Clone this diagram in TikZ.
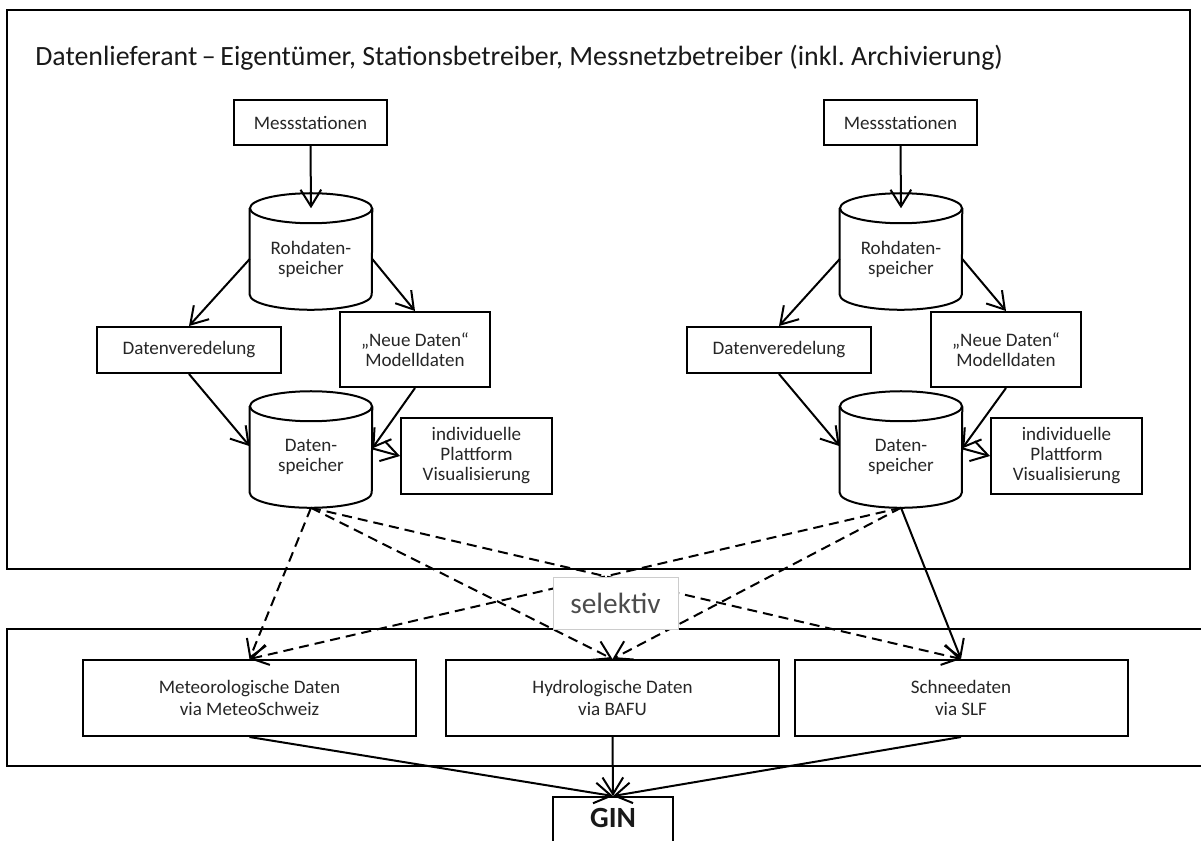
\documentclass[tikz,border=0pt]{standalone}
\usepackage{fontspec}
\setmainfont{Carlito}
\usetikzlibrary{arrows.meta,calc}

% 1 unit = 0.75pt; coordinates are given as (x,-y)
\tikzset{
  x=0.75pt, y=0.75pt,
  stroke/.style={line width=1.5pt, line join=miter},
  boxtext/.style={font=\fontsize{14.3}{15}\selectfont, text=black!85},
  boxnode/.style={draw, stroke, boxtext, align=center, inner sep=0pt},
  storenode/.style={boxtext, align=center, inner sep=0pt,
    minimum width=91.5pt, minimum height=75.75pt},
  arr/.style={stroke, -{Straight Barb[length=12.5pt,width=15.5pt]}},
  darr/.style={arr, dash pattern=on 7.5pt off 4.5pt},
}

% data store: node plus cylinder outline
\newcommand\storeshape[4]{%
  \node[storenode] (#1) at (#2,#3) {#4};
  \draw[stroke] (#1.north west) -- ($(#1.south west)+(0,15)$)
    arc[start angle=180,end angle=360,x radius=61,y radius=15]
    -- (#1.north east);
  \draw[stroke] (#1.north) ellipse[x radius=61,y radius=15];
}

\begin{document}
\begin{tikzpicture}
\useasboundingbox (0,0) rectangle (1201,-840);
\clip (0,0) rectangle (1201,-840);

% frames
\draw[stroke] (7,-10) rectangle (1190,-569);
\draw[stroke] (1215,-629) -| (7,-766) -- (1215,-766);

\node[anchor=base west, font=\fontsize{20.9}{22}\selectfont, text=black!90, inner sep=0pt]
  (title) at (35,-65)
  {Datenlieferant\,–\,Eigentümer, Stationsbetreiber, Messnetzbetreiber (inkl.\ Archivierung)};

% left branch
\node[boxnode, minimum width=114.75pt, minimum height=33.75pt] (mess1) at (310.5,-122.5) {Messstationen};
\storeshape{roh1}{311}{-259}{Rohdaten-\\speicher}
\node[boxnode, minimum width=138pt, minimum height=34.5pt] (ver1) at (189,-350) {Datenveredelung};
\node[boxnode, minimum width=112.5pt, minimum height=56.25pt] (neu1) at (415,-349.5) {„Neue Daten“\\Modelldaten};
\storeshape{ds1}{311}{-457}{Daten-\\speicher}
\node[boxnode, minimum width=113.25pt, minimum height=57pt] (vis1) at (476.5,-456) {individuelle\\Plattform\\Visualisierung};

% right branch
\node[boxnode, minimum width=114.75pt, minimum height=33.75pt] (mess2) at (900.5,-122.5) {Messstationen};
\storeshape{roh2}{901}{-259}{Rohdaten-\\speicher}
\node[boxnode, minimum width=138pt, minimum height=34.5pt] (ver2) at (779,-350) {Datenveredelung};
\node[boxnode, minimum width=112.5pt, minimum height=56.25pt] (neu2) at (1006,-349.5) {„Neue Daten“\\Modelldaten};
\storeshape{ds2}{901}{-457}{Daten-\\speicher}
\node[boxnode, minimum width=113.25pt, minimum height=57pt] (vis2) at (1066.5,-456) {individuelle\\Plattform\\Visualisierung};

% flows inside each branch
\foreach \i in {1,2} {
  \draw[arr] (mess\i.south) -- (roh\i.north);
  \draw[arr] (roh\i.west) -- (ver\i.north);
  \draw[arr] (roh\i.east) -- (neu\i.north);
  \draw[arr] (ver\i.south) -- (ds\i.170);
  \draw[arr] (neu\i.south) -- (ds\i.8);
  \draw[arr] (ds\i.8) -- (vis\i.west);
}

% national data centres
\tikzset{centre/.style={boxnode, font=\fontsize{14.3}{16.3}\selectfont, minimum width=249.75pt, minimum height=57pt}}
\node[centre] (met) at (249.5,-698) {Meteorologische Daten\\via MeteoSchweiz};
\node[centre] (hyd) at (612.5,-698) {Hydrologische Daten\\via BAFU};
\node[centre] (sch) at (961,-698) {Schneedaten\\via SLF};

% transfers
\draw[darr] (ds1.south) -- (met.north);
\draw[darr] (ds1.south) -- (hyd.north);
\draw[darr] (ds1.south) -- (sch.north);
\draw[darr] (ds2.south) -- (met.north);
\draw[darr] (ds2.south) -- (hyd.north);
\draw[arr]  (ds2.south) -- (sch.north);

\node[draw=black!20, line width=0.75pt, fill=white, minimum width=93.75pt, minimum height=39pt,
  inner sep=0pt, font=\fontsize{22}{24}\selectfont, text=black!70] (sel) at (615.5,-603) {selektiv};

% portal
\node[draw, stroke, anchor=north, minimum width=90pt, inner sep=0pt,
  text height=23pt, text depth=22pt, font=\fontsize{22}{24}\selectfont\bfseries, text=black!90]
  (gin) at (613,-796) {GIN};

\draw[arr] (met.south) -- (gin.north);
\draw[arr] (hyd.south) -- (gin.north);
\draw[arr] (sch.south) -- (gin.north);
\end{tikzpicture}
\end{document}
